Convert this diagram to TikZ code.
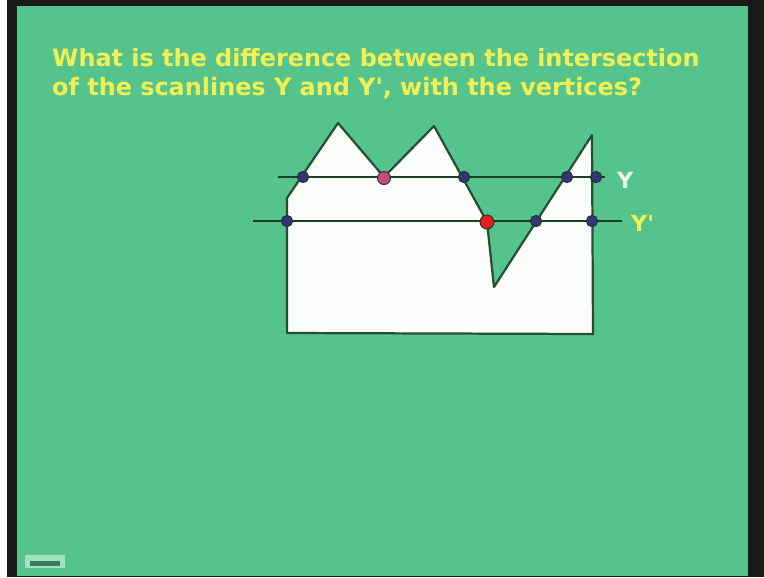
\documentclass[tikz,border=0pt]{standalone}
\usepackage{fontspec}
\setmainfont{DejaVu Sans}
\newfontfamily\ttlfont{DejaVu Sans Bold}
\usetikzlibrary{positioning}
\definecolor{slidegreen}{RGB}{84,196,140}
\definecolor{titleyellow}{RGB}{240,240,86}
\definecolor{edgegreen}{RGB}{38,78,52}
\definecolor{dotblue}{RGB}{52,52,120}
\definecolor{dotpink}{RGB}{196,74,128}
\definecolor{dotred}{RGB}{232,30,30}
\definecolor{polyfill}{RGB}{250,253,250}

\begin{document}
\begin{tikzpicture}[x=0.03cm, y=-0.03cm,
  ttl/.style={anchor=base west, inner sep=0pt, text=titleyellow,
              font=\ttlfont\fontsize{20.4}{24}\selectfont},
  scan/.style={line width=2.1pt, edgegreen!80!black},
  dot/.style={circle, draw=edgegreen!70!black, line width=0.8pt,
              fill=dotblue, inner sep=0pt, minimum size=0.34cm},
  vtx/.style={dot, minimum size=0.39cm},
  lbl/.style={anchor=base west, inner sep=0pt,
              font=\ttlfont\fontsize{19}{23}\selectfont},
]

%% frame of the slide
\fill[white] (0,0) rectangle (764,577);
\fill[black!90] (7,0) rectangle (764,577);
\fill[slidegreen] (17,6) rectangle (748,576);
\useasboundingbox (0,0) rectangle (764,577);

%% question
\node[ttl] (q1) at (52,66) {What is the difference between the intersection};
\node[ttl] (q2) at (52,95) {of the scanlines Y and Y', with the vertices?};

%% polygon
\draw[line width=1.9pt, edgegreen, fill=polyfill, line join=round]
  (287,333) -- (287,198) -- (338,123) -- (384,177) -- (434,126)
  -- (487,222) -- (494,287) -- (592,135) -- (593,334) -- cycle;

%% scanlines
\coordinate (yl) at (278,177);
\coordinate (yr) at (605,177);
\coordinate (ypl) at (253,221);
\coordinate (ypr) at (622,221);
\draw[scan] (yl) -- (yr);
\draw[scan] (ypl) -- (ypr);
\node[lbl, text=white!92!green] (ylbl) at (617,188) {Y};
\node[lbl, text=titleyellow] (yplbl) at (631,231) {Y'};

%% intersections on Y
\foreach \n/\x in {a/303, c/464, d/567, e/596} {
  \node[dot] (y\n) at (\x,177) {};
}
\node[vtx, fill=dotpink] (yb) at (384,178) {};

%% intersections on Y'
\foreach \n/\x in {a/287, c/536, d/592} {
  \node[dot] (yp\n) at (\x,221) {};
}
\node[vtx, fill=dotred, minimum size=0.42cm] (ypb) at (487,222) {};

%% page marker
\fill[slidegreen!55!white] (25,555) rectangle (65,568);
\fill[edgegreen!60!slidegreen] (30,561) rectangle (60,566);

\end{tikzpicture}
\end{document}
